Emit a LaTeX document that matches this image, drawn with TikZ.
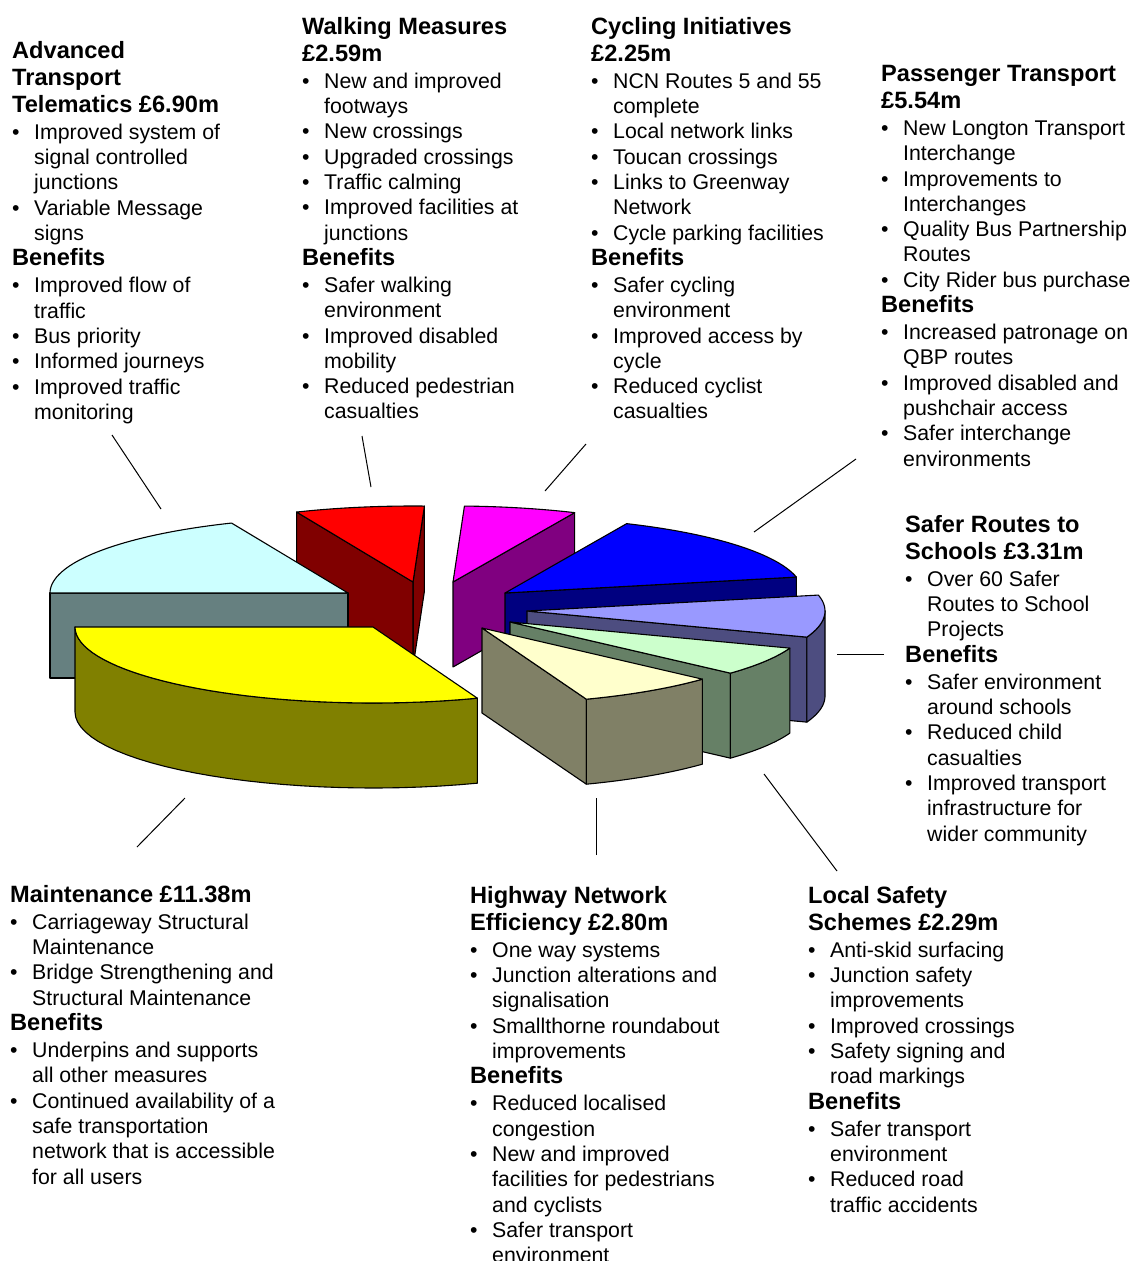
\documentclass[tikz,border=0pt]{standalone}
\usepackage{fontspec}
\setmainfont{Liberation Sans}

\definecolor{attTop}{HTML}{CCFFFF}
\definecolor{attSide}{HTML}{668080}
\definecolor{walkTop}{HTML}{FF0000}
\definecolor{walkSide}{HTML}{800000}
\definecolor{cycTop}{HTML}{FF00FF}
\definecolor{cycSide}{HTML}{800080}
\definecolor{ptTop}{HTML}{0000FF}
\definecolor{ptSide}{HTML}{000080}
\definecolor{srsTop}{HTML}{9999FF}
\definecolor{srsSide}{HTML}{4D4D80}
\definecolor{lssTop}{HTML}{CCFFCC}
\definecolor{lssSide}{HTML}{668066}
\definecolor{hneTop}{HTML}{FFFFCC}
\definecolor{hneSide}{HTML}{808066}
\definecolor{mntTop}{HTML}{FFFF00}
\definecolor{mntSide}{HTML}{808000}

\begin{document}
\begin{tikzpicture}[x=1pt, y=-1pt,
pie/.style={draw=black, line width=1.1pt, line join=round},
leader/.style={draw=black, line width=1pt},
block/.style={anchor=north west, inner sep=0pt, align=left, font=\fontsize{21.3}{25.3}\selectfont}]
\useasboundingbox (0,0) rectangle (1132,1261);
 \def\rx{298}
 \def\ry{76}
 \def\dh{85}
 \def\up{17}
 \def\bul{\makebox[22pt][l]{\textbullet}}
 \def\ind{\hspace*{22pt}}
 \def\hd{\fontsize{23.6}{27}\selectfont\bfseries}
 \def\topface#1#2#3#4#5{\filldraw[pie, fill=#5] (#1,#2) -- plot[domain=#3:#4, samples=40] ({#1+\rx*cos(\x)}, {#2-\ry*sin(\x)}) -- cycle;}
 \def\sideface#1#2#3#4{\filldraw[pie, fill=#4] (#1,#2) -- ({#1+\rx*cos(#3)}, {#2-\ry*sin(#3)}) -- ++(0,\dh) -- (#1,#2+\dh) -- cycle;}
 \def\rimface#1#2#3#4#5{\filldraw[pie, fill=#5] plot[domain=#3:#4, samples=30] ({#1+\rx*cos(\x)}, {#2-\ry*sin(\x)}) -- plot[domain=#4:#3, samples=30] ({#1+\rx*cos(\x)}, {#2+\dh-\ry*sin(\x)}) -- cycle;}

%pie, back slices first
\sideface{413}{582}{87.8}{walkSide}
\sideface{413}{582}{113}{walkSide}
\topface{413}{582}{87.8}{113}{walkTop}
\sideface{453}{582}{65.9}{cycSide}
\topface{453}{582}{65.9}{87.8}{cycTop}
\sideface{505}{593}{12.1}{ptSide}
\topface{505}{593}{12.1}{65.9}{ptTop}
\sideface{348}{593}{180}{attSide}
\topface{348}{593}{113}{180}{attTop}
%pie, front slices
\sideface{527}{611}{-20.1}{srsSide}
\rimface{527}{611}{-20.1}{0}{srsSide}
\topface{527}{611}{-20.1}{12.1}{srsTop}
\sideface{510}{622}{-42.3}{lssSide}
\rimface{510}{622}{-42.3}{-20.1}{lssSide}
\topface{510}{622}{-42.3}{-20.1}{lssTop}
\sideface{482}{628}{-69.5}{hneSide}
\rimface{482}{628}{-69.5}{-42.3}{hneSide}
\topface{482}{628}{-69.5}{-42.3}{hneTop}
\rimface{373}{627}{-180}{-69.5}{mntSide}
\topface{373}{627}{-180}{-69.5}{mntTop}

%text blocks (y = first baseline - \up)
\node[block] (att) at (12,58-\up) {{\hd Advanced}\\[1.7pt]
{\hd Transport}\\[1.7pt]
{\hd Telematics £6.90m}\\[1.7pt]
\bul Improved system of\\
\ind signal controlled\\
\ind junctions\\
\bul Variable Message\\
\ind signs\\
{\hd Benefits}\\[1.7pt]
\bul Improved flow of\\
\ind traffic\\
\bul Bus priority\\
\bul Informed journeys\\
\bul Improved traffic\\
\ind monitoring};

\node[block] (walk) at (302,34-\up) {{\hd Walking Measures}\\[1.7pt]
{\hd £2.59m}\\[1.7pt]
\bul New and improved\\
\ind footways\\
\bul New crossings\\
\bul Upgraded crossings\\
\bul Traffic calming\\
\bul Improved facilities at\\
\ind junctions\\
{\hd Benefits}\\[1.7pt]
\bul Safer walking\\
\ind environment\\
\bul Improved disabled\\
\ind mobility\\
\bul Reduced pedestrian\\
\ind casualties};

\node[block] (cyc) at (591,34-\up) {{\hd Cycling Initiatives}\\[1.7pt]
{\hd £2.25m}\\[1.7pt]
\bul NCN Routes 5 and 55\\
\ind complete\\
\bul Local network links\\
\bul Toucan crossings\\
\bul Links to Greenway\\
\ind Network\\
\bul Cycle parking facilities\\
{\hd Benefits}\\[1.7pt]
\bul Safer cycling\\
\ind environment\\
\bul Improved access by\\
\ind cycle\\
\bul Reduced cyclist\\
\ind casualties};

\node[block] (pt) at (881,82-\up) {{\hd Passenger Transport}\\[1.7pt]
{\hd £5.54m}\\[1.7pt]
\bul New Longton Transport\\
\ind Interchange\\
\bul Improvements to\\
\ind Interchanges\\
\bul Quality Bus Partnership\\
\ind Routes\\
\bul City Rider bus purchase\\
{\hd Benefits}\\[1.7pt]
\bul Increased patronage on\\
\ind QBP routes\\
\bul Improved disabled and\\
\ind pushchair access\\
\bul Safer interchange\\
\ind environments};

\node[block] (srs) at (905,532-\up) {{\hd Safer Routes to}\\[1.7pt]
{\hd Schools £3.31m}\\[1.7pt]
\bul Over 60 Safer\\
\ind Routes to School\\
\ind Projects\\
{\hd Benefits}\\[1.7pt]
\bul Safer environment\\
\ind around schools\\
\bul Reduced child\\
\ind casualties\\
\bul Improved transport\\
\ind infrastructure for\\
\ind wider community};

\node[block] (mnt) at (10,902-\up) {{\hd Maintenance £11.38m}\\[1.7pt]
\bul Carriageway Structural\\
\ind Maintenance\\
\bul Bridge Strengthening and\\
\ind Structural Maintenance\\
{\hd Benefits}\\[1.7pt]
\bul Underpins and supports\\
\ind all other measures\\
\bul Continued availability of a\\
\ind safe transportation\\
\ind network that is accessible\\
\ind for all users};

\node[block] (hne) at (470,903-\up) {{\hd Highway Network}\\[1.7pt]
{\hd Efficiency £2.80m}\\[1.7pt]
\bul One way systems\\
\bul Junction alterations and\\
\ind signalisation\\
\bul Smallthorne roundabout\\
\ind improvements\\
{\hd Benefits}\\[1.7pt]
\bul Reduced localised\\
\ind congestion\\
\bul New and improved\\
\ind facilities for pedestrians\\
\ind and cyclists\\
\bul Safer transport\\
\ind environment};

\node[block] (lss) at (808,903-\up) {{\hd Local Safety}\\[1.7pt]
{\hd Schemes £2.29m}\\[1.7pt]
\bul Anti-skid surfacing\\
\bul Junction safety\\
\ind improvements\\
\bul Improved crossings\\
\bul Safety signing and\\
\ind road markings\\
{\hd Benefits}\\[1.7pt]
\bul Safer transport\\
\ind environment\\
\bul Reduced road\\
\ind traffic accidents};

%leader lines
\coordinate (att-a) at (112,435);
\coordinate (att-b) at (161,509);
\coordinate (walk-a) at (362,436);
\coordinate (walk-b) at (371,487);
\coordinate (cyc-a) at (586,444);
\coordinate (cyc-b) at (545,491);
\coordinate (pt-a) at (856,459);
\coordinate (pt-b) at (754,532);
\coordinate (srs-a) at (884,654);
\coordinate (srs-b) at (837,654);
\coordinate (lss-a) at (837,871);
\coordinate (lss-b) at (764,774);
\coordinate (hne-a) at (596,855);
\coordinate (hne-b) at (596,798);
\coordinate (mnt-a) at (137,847);
\coordinate (mnt-b) at (185,798);
\draw[leader] (att-a) -- (att-b);
\draw[leader] (walk-a) -- (walk-b);
\draw[leader] (cyc-a) -- (cyc-b);
\draw[leader] (pt-a) -- (pt-b);
\draw[leader] (srs-a) -- (srs-b);
\draw[leader] (lss-a) -- (lss-b);
\draw[leader] (hne-a) -- (hne-b);
\draw[leader] (mnt-a) -- (mnt-b);
\end{tikzpicture}
\end{document}
